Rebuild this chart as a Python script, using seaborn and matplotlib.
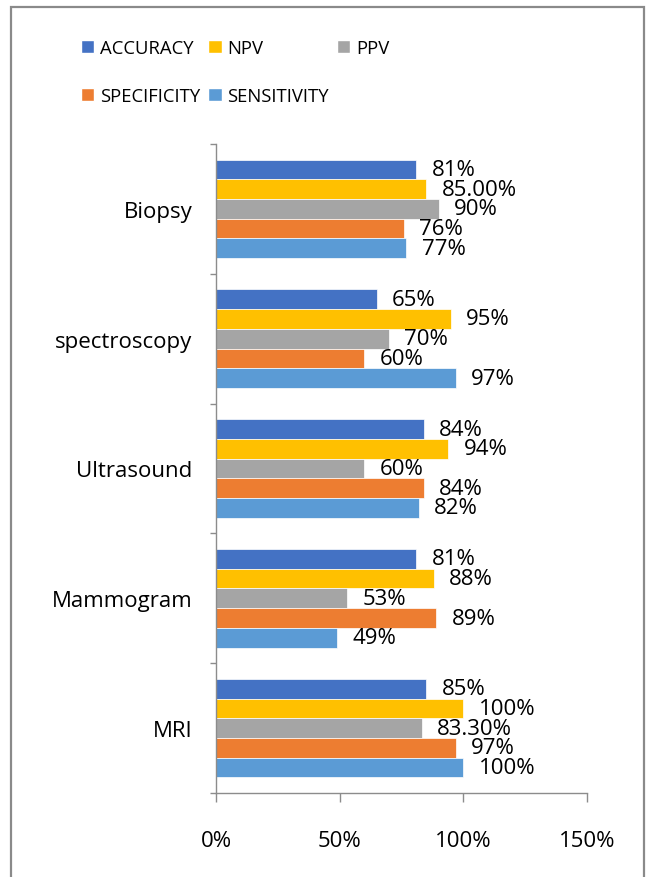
import numpy as np
import pandas as pd
import seaborn as sns
import matplotlib.pyplot as plt
from matplotlib.patches import Patch, Rectangle
from matplotlib.ticker import PercentFormatter, FixedLocator

# data
categories = ["Biopsy", "spectroscopy", "Ultrasound", "Mammogram", "MRI"]
metrics = ["ACCURACY", "NPV", "PPV", "SPECIFICITY", "SENSITIVITY"]
accuracy = [81, 65, 84, 81, 85]
npv = [85, 95, 94, 88, 100]
ppv = [90, 70, 60, 53, 83.3]
specificity = [76, 60, 84, 89, 97]
sensitivity = [77, 97, 82, 49, 100]

accuracy_labels = ["81%", "65%", "84%", "81%", "85%"]
npv_labels = ["85.00%", "95%", "94%", "88%", "100%"]
ppv_labels = ["90%", "70%", "60%", "53%", "83.30%"]
specificity_labels = ["76%", "60%", "84%", "89%", "97%"]
sensitivity_labels = ["77%", "97%", "82%", "49%", "100%"]

colors = ["#4472C4", "#FFC000", "#A5A5A5", "#ED7D31", "#5B9BD5"]

series = [accuracy, npv, ppv, specificity, sensitivity]
label_sets = [accuracy_labels, npv_labels, ppv_labels, specificity_labels, sensitivity_labels]

rows = []
for m, vals in zip(metrics, series):
    for c, v in zip(categories, vals):
        rows.append({"category": c, "metric": m, "value": v})
df = pd.DataFrame(rows)

sns.set_style("white")
plt.rcParams['font.family'] = ['Open Sans', 'DejaVu Sans']
plt.rcParams['text.color'] = 'black'
plt.rcParams['xtick.labelcolor'] = 'black'
plt.rcParams['ytick.labelcolor'] = 'black'

fig = plt.figure(figsize=(6.5, 8.78), dpi=100)
ax = fig.add_axes([216/650, 1-794/878, (587-216)/650, (794-145)/878])

sns.barplot(data=df, y="category", x="value", hue="metric", order=categories,
            hue_order=metrics, palette=colors, orient="h", width=0.76,
            saturation=1, edgecolor="white", linewidth=0.5, legend=False, ax=ax)

for cont, labs in zip(ax.containers, label_sets):
    ax.bar_label(cont, labels=labs, padding=11, fontsize=16, color="black")

axis_col = "#8c8c8c"
ax.set_xlim(0, 150)
ax.set_ylim(4.5, -0.5)
ax.set_xticks([0, 50, 100, 150])
ax.xaxis.set_major_formatter(PercentFormatter(xmax=100, decimals=0))
ax.yaxis.set_minor_locator(FixedLocator(np.arange(-0.5, 5, 1)))
ax.tick_params(axis="x", direction="out", length=6.5, width=1, color=axis_col,
               labelsize=16, pad=20.5, bottom=True)
ax.tick_params(axis="y", which="major", length=0, labelsize=16, pad=17)
ax.tick_params(axis="y", which="minor", direction="out", length=4.5, width=1,
               color=axis_col, left=True)
ax.set_xlabel("")
ax.set_ylabel("")
for s in ["top", "right"]:
    ax.spines[s].set_visible(False)
for s in ["left", "bottom"]:
    ax.spines[s].set_color(axis_col)
    ax.spines[s].set_linewidth(1)
ax.grid(False)

# legend, filled row by row like the original
order = [0, 3, 1, 4, 2]
handles = [Patch(facecolor=colors[i], label=metrics[i]) for i in order]
fig.legend(handles=handles, loc="upper left", bbox_to_anchor=(81/650, 1-40/878),
           ncol=3, frameon=False, fontsize=13.3, handlelength=0.72, handleheight=0.72,
           handletextpad=0.3, columnspacing=0.45, labelspacing=1.6, borderpad=0,
           borderaxespad=0)

# outer chart frame
fig.patches.append(Rectangle((11/650, -0.01), (644-11)/650, 1.01-8/878,
                             transform=fig.transFigure, fill=False,
                             edgecolor="#8a8a8a", linewidth=1.6))

fig.savefig("out.png", dpi=100)
